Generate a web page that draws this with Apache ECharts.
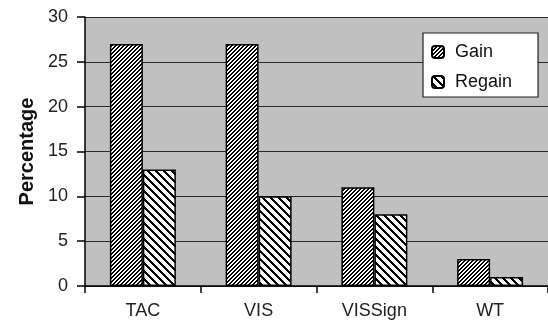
<!DOCTYPE html>
<html>
<head>
<meta charset="utf-8">
<script src="https://cdn.jsdelivr.net/npm/echarts@6/dist/echarts.min.js"></script>
<style>
html,body{margin:0;padding:0;background:#fff;}
#c{width:548px;height:320px;}
</style>
</head>
<body>
<div id="c"></div>
<script>
const categories = ['TAC', 'VIS', 'VISSign', 'WT'];
const gainValues = [27, 27, 11, 3];
const regainValues = [13, 10, 8, 1];
const seriesNames = ['Gain', 'Regain'];

function hatch(n, w, dir) {
  const c = document.createElement('canvas');
  c.width = n; c.height = n;
  const ctx = c.getContext('2d');
  const img = ctx.createImageData(n, n);
  for (let y = 0; y < n; y++) {
    for (let x = 0; x < n; x++) {
      const k = dir > 0 ? (x + y) % n : (((x - y) % n) + n) % n;
      const on = k < w;
      const i = (y * n + x) * 4;
      const v = on ? 0 : 255;
      img.data[i] = v; img.data[i + 1] = v; img.data[i + 2] = v; img.data[i + 3] = 255;
    }
  }
  ctx.putImageData(img, 0, 0);
  return c;
}

const gainPattern = { image: hatch(4, 2, 1), repeat: 'repeat' };
const regainPattern = { image: hatch(8, 3, -1), repeat: 'repeat' };

const font = '"Liberation Sans", Arial, sans-serif';
const chart = echarts.init(document.getElementById('c'), null, { renderer: 'canvas' });
chart.setOption({
  animation: false,
  backgroundColor: '#fff',
  textStyle: { fontFamily: font },
  grid: {
    left: 85, top: 17, width: 468, bottom: 34,
    show: true, backgroundColor: '#c0c0c0', borderWidth: 0
  },
  legend: {
    orient: 'vertical',
    left: 423, top: 33,
    padding: [9, 26, 5, 8],
    itemGap: 10,
    itemWidth: 12, itemHeight: 12,
    backgroundColor: '#fff',
    borderColor: '#222', borderWidth: 1.2,
    borderRadius: 0,
    textStyle: { fontSize: 18, color: '#111', fontFamily: font, lineHeight: 20, padding: [0, 0, 0, 6] },
    data: seriesNames
  },
  xAxis: {
    type: 'category',
    data: categories,
    axisLine: { lineStyle: { color: '#000', width: 1.5 } },
    axisTick: { show: true, length: 7, lineStyle: { color: '#000', width: 1.5 } },
    axisLabel: { fontSize: 18, color: '#222', margin: 16, fontFamily: font }
  },
  yAxis: {
    type: 'value',
    min: 0, max: 30, interval: 5,
    name: 'Percentage',
    nameLocation: 'middle',
    nameGap: 48,
    nameTextStyle: { fontSize: 20, fontWeight: 'bold', color: '#111', fontFamily: font },
    axisLine: { show: true, lineStyle: { color: '#000', width: 1.5 } },
    axisTick: { show: true, length: 8, lineStyle: { color: '#000', width: 1.5 } },
    axisLabel: { fontSize: 18, color: '#222', margin: 17, fontFamily: font },
    splitLine: { show: true, lineStyle: { color: '#2a2a2a', width: 1 } }
  },
  series: [
    {
      name: seriesNames[0], type: 'bar', data: gainValues,
      barGap: '0%', barCategoryGap: '43%',
      itemStyle: { color: gainPattern, borderColor: '#000', borderWidth: 1.5 }
    },
    {
      name: seriesNames[1], type: 'bar', data: regainValues,
      barGap: '0%', barCategoryGap: '43%',
      itemStyle: { color: regainPattern, borderColor: '#000', borderWidth: 1.5 }
    }
  ]
});
</script>
</body>
</html>
